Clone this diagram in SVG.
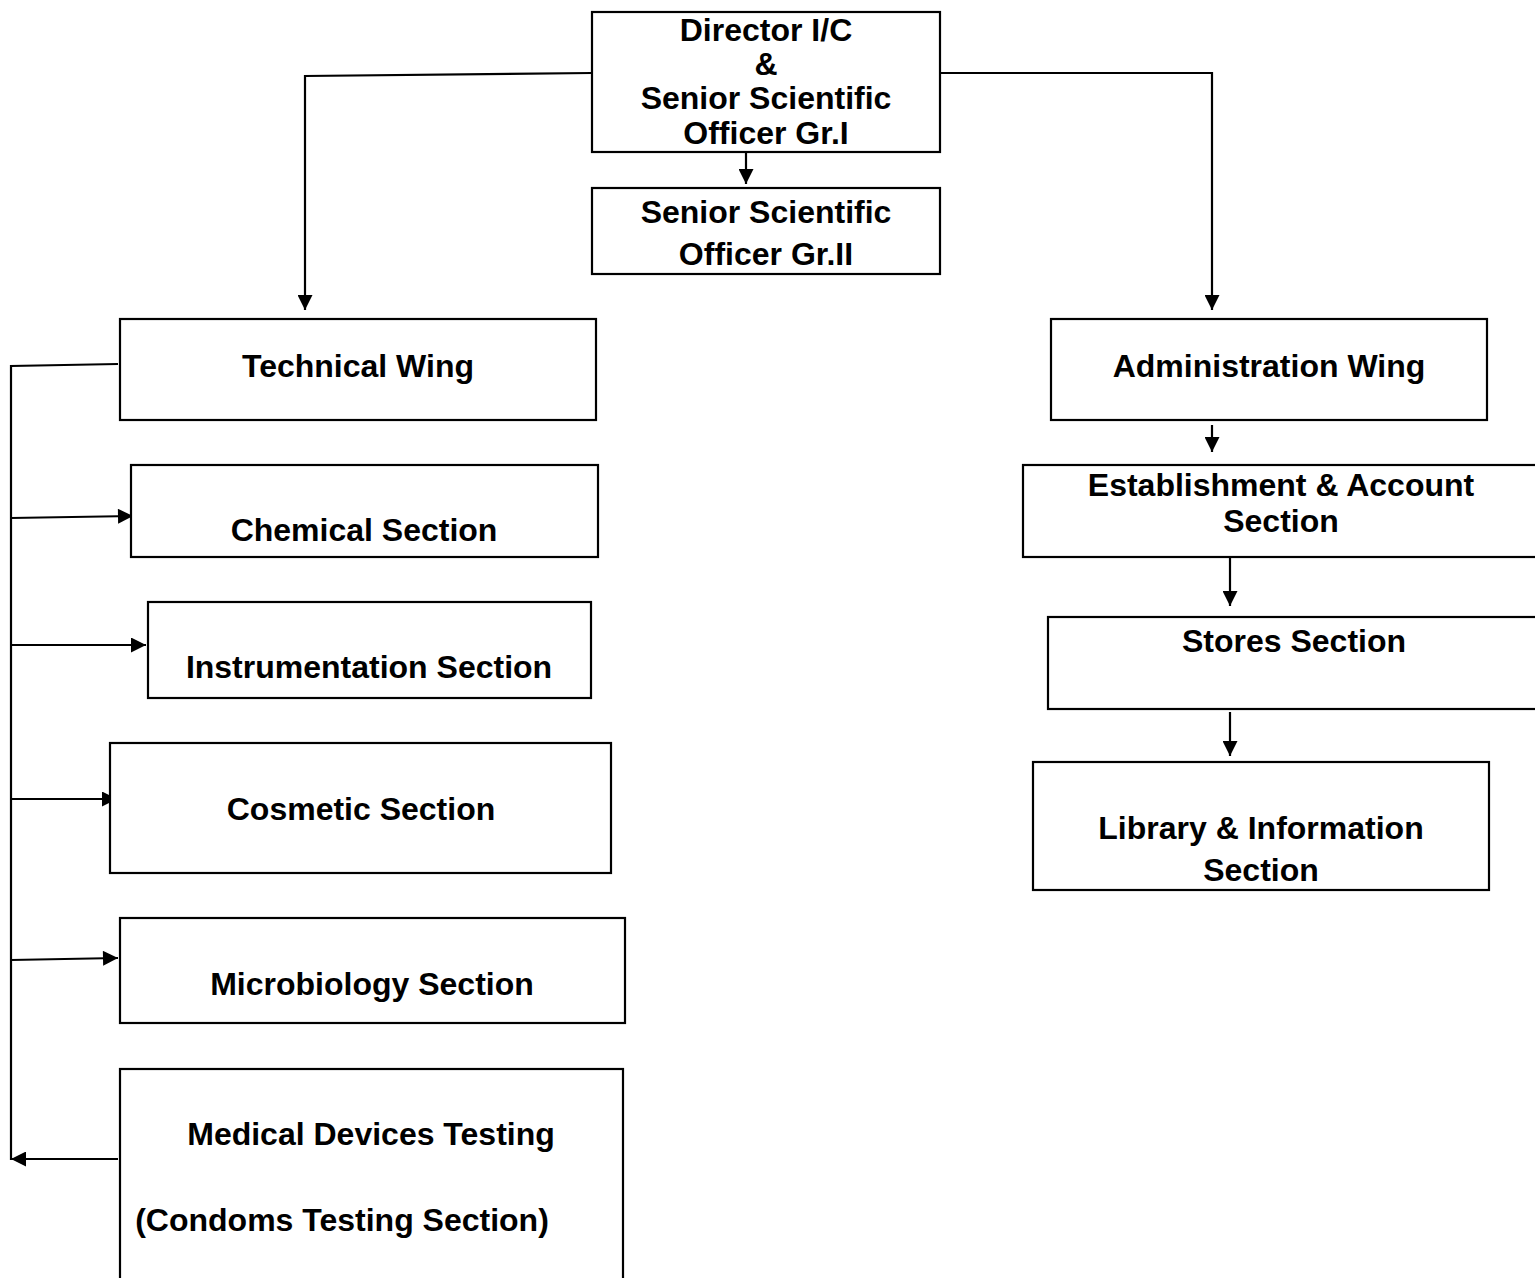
<svg xmlns="http://www.w3.org/2000/svg" width="1535" height="1278" viewBox="0 0 1535 1278">
<style>
.box{fill:#fff;stroke:#000;stroke-width:2.2}
.t{font-family:"Liberation Sans",Arial,sans-serif;font-weight:bold;font-size:32px;fill:#000;text-anchor:middle}
.c{fill:none;stroke:#000;stroke-width:2.2}
.a{fill:none;stroke:#000;stroke-width:2.2;marker-end:url(#ah)}
</style>
<defs>
<marker id="ah" viewBox="0 0 10 10" refX="10" refY="5" markerWidth="16" markerHeight="15" markerUnits="userSpaceOnUse" orient="auto">
<path d="M0,0 L10,5 L0,10 Z" fill="#000"/>
</marker>
</defs>
<g id="connectors">
<path class="a" d="M746,152 L746,184"/>
<path class="a" d="M592,73 L305,76 L305,310"/>
<path class="a" d="M940,73 L1212,73 L1212,310"/>
<path class="a" d="M1212,425 L1212,452"/>
<path class="a" d="M1230,555 L1230,606"/>
<path class="a" d="M1230,712 L1230,756"/>
<path class="c" d="M118,364 L11,366 L11,1160"/>
<path class="a" d="M11,518 L133,516"/>
<path class="a" d="M11,645 L146,645"/>
<path class="a" d="M11,799 L117,799"/>
<path class="a" d="M11,960 L118,958"/>
<path class="a" d="M118,1159 L11,1159"/>
</g>
<g id="director">
<rect class="box" x="592" y="12" width="348" height="140"/>
<text class="t" x="766" y="41">Director I/C</text>
<text class="t" x="766" y="75">&amp;</text>
<text class="t" x="766" y="109">Senior Scientific</text>
<text class="t" x="766" y="144">Officer Gr.I</text>
</g>
<g id="sso2">
<rect class="box" x="592" y="188" width="348" height="86"/>
<text class="t" x="766" y="223">Senior Scientific</text>
<text class="t" x="766" y="265">Officer Gr.II</text>
</g>
<g id="technical">
<rect class="box" x="120" y="319" width="476" height="101"/>
<text class="t" x="358" y="377">Technical Wing</text>
</g>
<g id="administration">
<rect class="box" x="1051" y="319" width="436" height="101"/>
<text class="t" x="1269" y="377">Administration Wing</text>
</g>
<g id="establishment">
<rect class="box" x="1023" y="465" width="520" height="92"/>
<text class="t" x="1281" y="496">Establishment &amp; Account</text>
<text class="t" x="1281" y="532">Section</text>
</g>
<g id="stores">
<rect class="box" x="1048" y="617" width="495" height="92"/>
<text class="t" x="1294" y="652">Stores Section</text>
</g>
<g id="library">
<rect class="box" x="1033" y="762" width="456" height="128"/>
<text class="t" x="1261" y="839">Library &amp; Information</text>
<text class="t" x="1261" y="881">Section</text>
</g>
<g id="chemical">
<rect class="box" x="131" y="465" width="467" height="92"/>
<text class="t" x="364" y="541">Chemical Section</text>
</g>
<g id="instrumentation">
<rect class="box" x="148" y="602" width="443" height="96"/>
<text class="t" x="369" y="678">Instrumentation Section</text>
</g>
<g id="cosmetic">
<rect class="box" x="110" y="743" width="501" height="130"/>
<text class="t" x="361" y="820">Cosmetic Section</text>
</g>
<g id="microbiology">
<rect class="box" x="120" y="918" width="505" height="105"/>
<text class="t" x="372" y="995">Microbiology Section</text>
</g>
<g id="medical">
<rect class="box" x="120" y="1069" width="503" height="230"/>
<text class="t" x="371" y="1145">Medical Devices Testing</text>
<text class="t" x="342" y="1231">(Condoms Testing Section)</text>
</g>
</svg>
